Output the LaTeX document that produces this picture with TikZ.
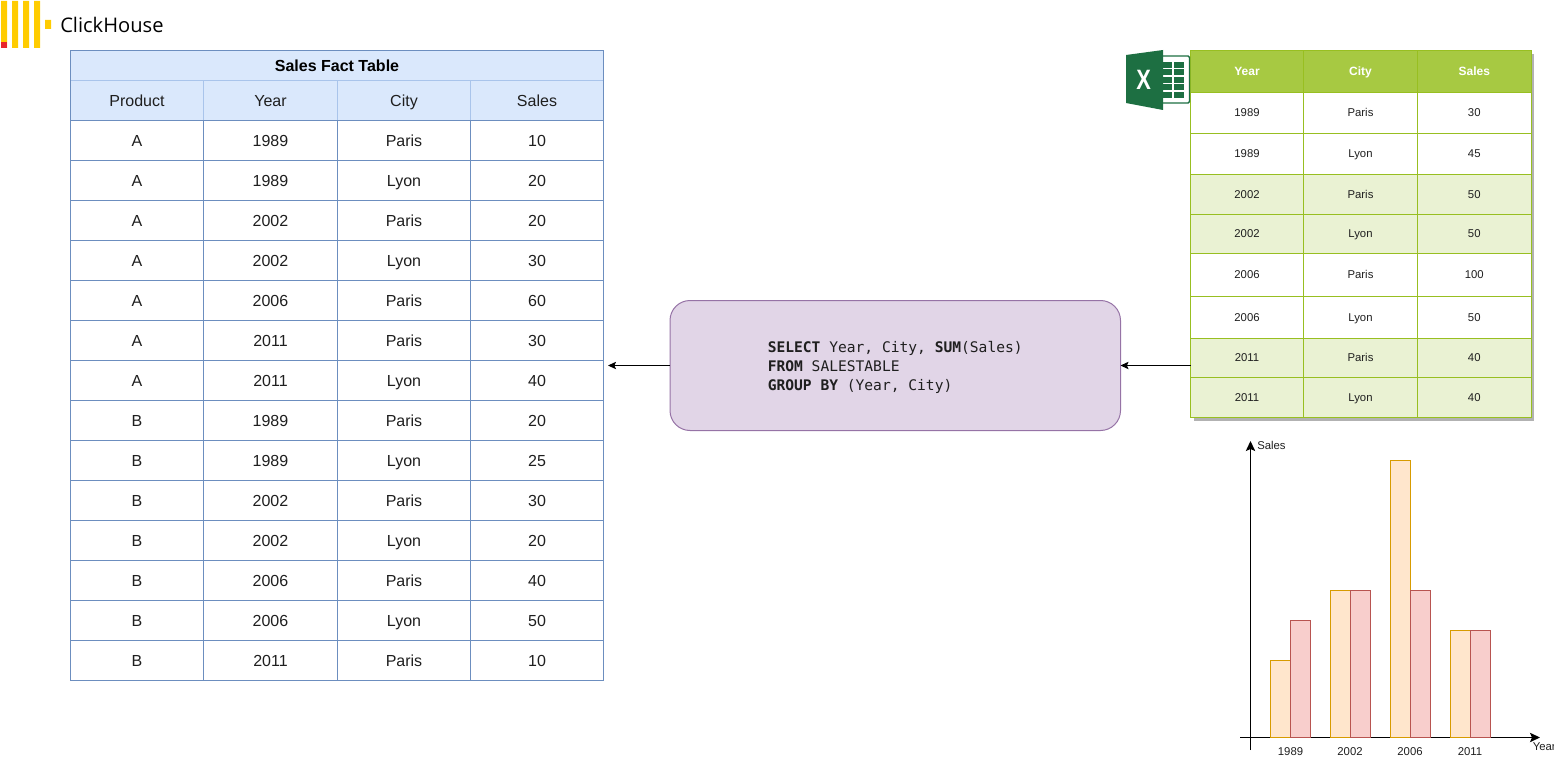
\documentclass[tikz,border=0pt]{standalone}
\usepackage{fontspec}
\setmainfont{Liberation Sans}
\newfontfamily\logofont{Open Sans}
\setmonofont{DejaVu Sans Mono}
\usetikzlibrary{arrows.meta}
\definecolor{blueF}{HTML}{DAE8FC}
\definecolor{blueD}{HTML}{6C8EBF}
\definecolor{blueL}{HTML}{A9C4EB}
\definecolor{purpF}{HTML}{E1D5E7}
\definecolor{purpD}{HTML}{9673A6}
\definecolor{orF}{HTML}{FFE6CC}
\definecolor{orD}{HTML}{D79B00}
\definecolor{redF}{HTML}{F8CECC}
\definecolor{redD}{HTML}{B85450}
\definecolor{grH}{HTML}{A7C942}
\definecolor{grD}{HTML}{98BF21}
\definecolor{grA}{HTML}{EAF2D3}
\definecolor{xlD}{HTML}{1D6F42}
\definecolor{chY}{HTML}{FFCC01}
\definecolor{chR}{HTML}{E8262B}
\definecolor{ink}{HTML}{1F1F1F}
\newcommand\tcell[7]{\node[#6,minimum width={(#4-#2)*0.75pt},minimum height={(#5-#3)*0.75pt}] (#1) at ({(#2+#4)/2},{(#3+#5)/2}) {#7};}
\tikzset{
  x=0.75pt,y=-0.75pt,
  cellbase/.style={inner sep=0pt,outer sep=0pt,line width=0.75pt,text=ink},
  factcell/.style={cellbase,draw=blueD,fill=white,text height=8.6pt,text depth=0pt,font=\fontsize{12}{14}\selectfont},
  facthead/.style={cellbase,draw=blueL,fill=blueF,text height=8.6pt,text depth=0pt,font=\fontsize{12}{14}\selectfont},
  facttitle/.style={cellbase,draw=blueD,fill=blueF,text=black,text height=8.6pt,text depth=0pt,font=\fontsize{12}{14}\selectfont\bfseries},
  xlhead/.style={cellbase,draw=grD,fill=grH,text=white,text height=6.4pt,text depth=0pt,font=\fontsize{9}{11}\selectfont\bfseries},
  xlplain/.style={cellbase,draw=grD,fill=white,text height=6.1pt,text depth=0.6pt,font=\fontsize{8.5}{10}\selectfont},
  xlalt/.style={cellbase,draw=grD,fill=grA,text height=6.1pt,text depth=0.6pt,font=\fontsize{8.5}{10}\selectfont},
  flow/.style={line width=0.75pt,-{Stealth[length=6pt,width=5.5pt,inset=1.2pt]}},
  axisline/.style={line width=0.9pt,-{Stealth[length=7.5pt,width=7pt,inset=1.5pt]}},
  barO/.style={draw=orD,fill=orF,line width=0.75pt},
  barR/.style={draw=redD,fill=redF,line width=0.75pt},
  small/.style={inner sep=0pt,text=ink,font=\fontsize{8.5}{10}\selectfont},
}
\begin{document}
\begin{tikzpicture}
\useasboundingbox (0,0) rectangle (1554,767);
% logo
\fill[chY] (1,1) rectangle (7,48) (12,1) rectangle (18,48) (23,1) rectangle (29,48) (34,1) rectangle (40,48) (45,20) rectangle (51,29);
\fill[chR] (1,42) rectangle (7,48);
\node[anchor=west,inner sep=0pt,text=black,font=\logofont\fontsize{15.1}{18}\selectfont] (brand) at (60,25) {ClickHouse};
% fact table
\tcell{facttitlecell}{70.5}{50.5}{603.5}{80.5}{facttitle}{Sales Fact Table}
\tcell{facth1}{70.5}{80.5}{203.5}{120.5}{facthead}{Product}
\tcell{facth2}{203.5}{80.5}{337.5}{120.5}{facthead}{Year}
\tcell{facth3}{337.5}{80.5}{470.5}{120.5}{facthead}{City}
\tcell{facth4}{470.5}{80.5}{603.5}{120.5}{facthead}{Sales}
\foreach \p/\yr/\c/\s [count=\i] in {A/1989/Paris/10,A/1989/Lyon/20,A/2002/Paris/20,A/2002/Lyon/30,A/2006/Paris/60,A/2011/Paris/30,A/2011/Lyon/40,B/1989/Paris/20,B/1989/Lyon/25,B/2002/Paris/30,B/2002/Lyon/20,B/2006/Paris/40,B/2006/Lyon/50,B/2011/Paris/10}{
  \pgfmathsetmacro\ya{120.5+40*(\i-1)}
  \pgfmathsetmacro\yb{\ya+40}
  \tcell{fact\i a}{70.5}{\ya}{203.5}{\yb}{factcell}{\p}
  \tcell{fact\i b}{203.5}{\ya}{337.5}{\yb}{factcell}{\yr}
  \tcell{fact\i c}{337.5}{\ya}{470.5}{\yb}{factcell}{\c}
  \tcell{fact\i d}{470.5}{\ya}{603.5}{\yb}{factcell}{\s}
}
\draw[blueD,line width=0.75pt] (70.5,80.5) -- (70.5,120.5) (603.5,80.5) -- (603.5,120.5);
% excel table
\fill[black!30] (1194,54) rectangle (1534,421);
\tcell{xlh1}{1190.5}{50.5}{1303.5}{92.5}{xlhead}{Year}
\tcell{xlh2}{1303.5}{50.5}{1417.5}{92.5}{xlhead}{City}
\tcell{xlh3}{1417.5}{50.5}{1531}{92.5}{xlhead}{Sales}
\foreach \ya/\yb/\yr/\c/\s/\st [count=\i] in {92.5/133.5/1989/Paris/30/xlplain,133.5/174.5/1989/Lyon/45/xlplain,174.5/214.5/2002/Paris/50/xlalt,214.5/253.5/2002/Lyon/50/xlalt,253.5/296.5/2006/Paris/100/xlplain,296.5/338.5/2006/Lyon/50/xlplain,338.5/377.5/2011/Paris/40/xlalt,377.5/417.5/2011/Lyon/40/xlalt}{
  \tcell{xl\i a}{1190.5}{\ya}{1303.5}{\yb}{\st}{\yr}
  \tcell{xl\i b}{1303.5}{\ya}{1417.5}{\yb}{\st}{\c}
  \tcell{xl\i c}{1417.5}{\ya}{1531}{\yb}{\st}{\s}
}
% excel icon
\draw[xlD,line width=1.1pt,fill=white,rounded corners=1pt] (1160,56) rectangle (1189.5,103);
\foreach \r in {0,...,4}{
  \fill[xlD] (1163,{62+\r*7.5}) rectangle (1172,{68+\r*7.5});
  \fill[xlD] (1173.5,{62+\r*7.5}) rectangle (1183.5,{68+\r*7.5});
}
\fill[xlD] (1126,55) -- (1163,50) -- (1163,110) -- (1126,103) -- cycle;
\node[inner sep=0pt,text=white,xscale=0.78,font=\fontsize{21}{23}\selectfont\bfseries] (xmark) at (1143.7,80) {X};
% sql box
\node[draw=purpD,fill=purpF,line width=0.75pt,rounded corners=15pt,minimum width={450.5*0.75pt},minimum height={130*0.75pt},inner sep=0pt,outer sep=0pt] (sql) at (895.25,365.5) {};
\node[anchor=north west,inner sep=0pt,align=left,text=ink,font=\ttfamily\fontsize{10.95}{14.25}\selectfont] (sqltext) at (767.5,341.5) {\textbf{SELECT} Year, City, \textbf{SUM}(Sales)\\\textbf{FROM} SALESTABLE\\\textbf{GROUP BY} (Year, City)};
% connectors
\coordinate (factin) at (608,365.5);
\coordinate (xlout) at (1190.5,365.5);
\draw[flow] (sql.west) -- (factin);
\draw[flow] (xlout) -- (sql.east);
% chart
\coordinate (ya) at (1250.5,750);
\coordinate (yb) at (1250.5,441);
\coordinate (xa) at (1240,737.5);
\coordinate (xb) at (1540,737.5);
\draw[axisline] (ya) -- (yb);
\draw[axisline] (xa) -- (xb);
\draw[barO] (1270.5,737.5) rectangle (1290.5,660.5);
\draw[barR] (1290.5,737.5) rectangle (1310.5,620.5);
\draw[barO] (1330.5,737.5) rectangle (1350.5,590.5);
\draw[barR] (1350.5,737.5) rectangle (1370.5,590.5);
\draw[barO] (1390.5,737.5) rectangle (1410.5,460.5);
\draw[barR] (1410.5,737.5) rectangle (1430.5,590.5);
\draw[barO] (1450.5,737.5) rectangle (1470.5,630.5);
\draw[barR] (1470.5,737.5) rectangle (1490.5,630.5);
\node[small] (l1) at (1290.5,751.5) {1989};
\node[small] (l2) at (1350,751.5) {2002};
\node[small] (l3) at (1410,751.5) {2006};
\node[small] (l4) at (1470,751.5) {2011};
\node[small,anchor=west] (ysales) at (1257,445) {Sales};
\node[small,anchor=west] (xyear) at (1532.5,747) {Year};
\end{tikzpicture}
\end{document}
